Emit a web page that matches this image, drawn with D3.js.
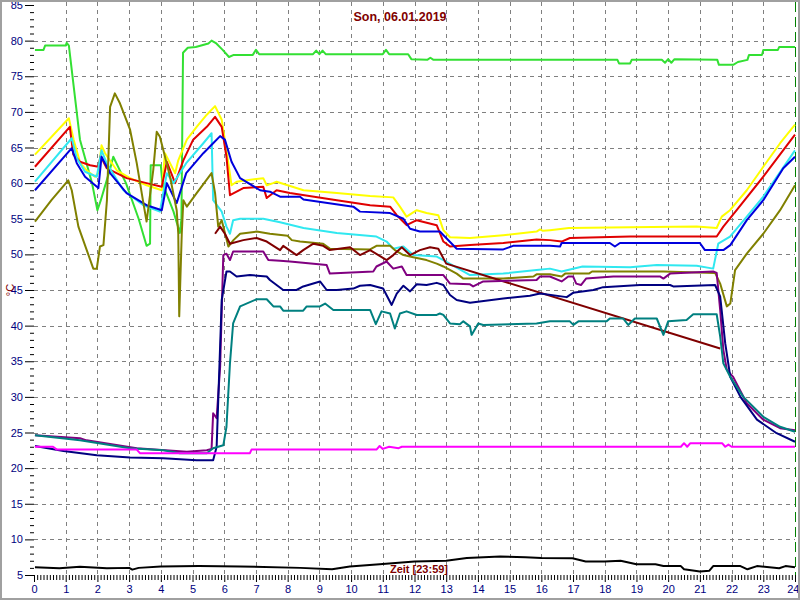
<!DOCTYPE html>
<html><head><meta charset="utf-8">
<script src="https://cdn.jsdelivr.net/npm/d3@7"></script>
<style>html,body{margin:0;padding:0;background:#fff}svg{display:block}text{font-family:Arial,"Liberation Sans",sans-serif}</style>
</head><body>
<svg id="c" width="800" height="600"></svg>
<script>
const title = "Son, 06.01.2019";
const xLabel = "Zeit [23:59]";
const yLabel = "°C";
const xTicks = d3.range(0, 25);
const yTicks = d3.range(5, 90, 5);

const green = [[0.03,78.7],[0.3,78.7],[0.35,79.3],[1.0,79.3],[1.03,79.7],[1.1,79.3],[1.45,66.1],[1.83,60],[2.0,56.2],[2.1,57.5],[2.4,62],[2.5,63.7],[2.9,60],[3.3,55],[3.55,51.2],[3.66,51.5],[3.68,62.5],[4.0,62.5],[4.05,60],[4.4,56],[4.6,53],[4.65,55],[4.7,78.3],[4.85,79],[5.1,79.1],[5.5,79.6],[5.6,80.0],[5.75,79.6],[5.95,78.7],[6.15,77.7],[6.3,78.0],[6.9,78.0],[7.0,78.7],[7.1,78.1],[8.8,78.1],[8.9,78.6],[9.0,78.1],[9.1,78.6],[9.2,78.1],[11.0,78.1],[11.1,78.7],[11.2,78.1],[11.8,78.1],[11.9,77.4],[12.4,77.3],[12.5,77.6],[12.6,77.3],[18.4,77.3],[18.45,76.8],[18.8,76.8],[18.85,77.3],[19.8,77.3],[19.9,76.9],[20.0,77.4],[20.1,76.9],[20.2,77.4],[21.55,77.3],[21.6,76.6],[22.05,76.6],[22.2,77.0],[22.5,77.3],[22.55,78.0],[22.96,78.0],[23.0,78.7],[23.46,78.7],[23.5,79.1],[24,79.1]];
const yellow = [[0.03,64.0],[1.1,69.1],[1.25,66.1],[1.46,62.8],[1.66,61.8],[1.92,60.9],[2.03,61.4],[2.13,65.3],[2.24,64.2],[2.61,61.8],[3.03,60.7],[3.55,59.7],[4.03,59.0],[4.13,64.2],[4.45,61.4],[4.55,63.2],[4.82,66.1],[5.13,67.9],[5.45,69.6],[5.71,70.8],[5.92,68.9],[6.07,64.6],[6.23,59.7],[6.39,60.2],[6.71,60.4],[7.23,60.7],[7.34,59.7],[7.54,60.0],[7.65,60.2],[8.5,59.0],[9.55,58.6],[10.6,58.2],[11.33,58.0],[11.54,56.7],[11.75,55.3],[12.07,56.2],[12.38,55.8],[12.75,55.5],[12.91,53.4],[13.12,52.4],[13.75,52.3],[14.8,52.7],[15.85,53.2],[15.96,53.5],[16.05,53.3],[16.27,53.4],[16.87,53.7],[18.8,53.8],[20.9,53.9],[21.53,53.7],[21.69,55.3],[21.95,56.2],[22.48,59.0],[23.0,62.3],[23.53,65.6],[24.0,68.2]];
const red = [[0.03,62.3],[1.13,67.9],[1.24,64.0],[1.45,63.0],[1.77,62.5],[2.03,62.3],[2.1,63.8],[2.29,62.1],[2.92,60.7],[3.55,60.0],[4.03,59.5],[4.19,63.0],[4.45,60.0],[4.71,63.2],[5.02,66.1],[5.45,67.9],[5.71,69.3],[5.92,67.9],[6.07,63.7],[6.18,58.3],[6.6,59.3],[7.23,59.5],[7.34,57.9],[7.65,59.0],[8.07,58.6],[9.55,57.6],[10.6,56.9],[11.23,56.7],[11.44,55.5],[11.75,54.1],[12.07,54.8],[12.7,54.1],[12.91,51.8],[13.12,51.1],[13.75,51.3],[14.8,51.6],[15.85,52.1],[16.27,52.0],[16.64,51.8],[16.9,52.3],[18.8,52.5],[21.53,52.5],[21.74,53.9],[22.16,56.2],[23.0,60.9],[24.0,66.8]];
const cyan = [[0.03,60.2],[1.19,66.3],[1.35,63.5],[1.61,61.6],[1.98,60.9],[2.13,64.6],[2.29,62.8],[2.82,59.0],[3.45,56.9],[3.97,56.0],[4.19,61.4],[4.4,60.0],[4.8,62.8],[5.34,65.6],[5.6,67.0],[5.65,57.6],[5.92,56.0],[6.07,53.9],[6.18,52.9],[6.28,54.8],[6.5,55.0],[7.23,55.0],[7.76,54.5],[8.5,53.7],[9.55,53.0],[10.8,52.5],[11.12,51.8],[11.33,50.8],[11.65,51.1],[11.96,49.9],[12.7,49.7],[12.91,49.2],[13.75,47.1],[14.8,47.3],[15.85,47.8],[16.27,48.0],[16.64,47.6],[17.3,48.3],[18.8,48.2],[19.64,48.5],[20.9,48.4],[21.42,48.0],[21.58,51.5],[21.95,52.5],[22.48,55.3],[23.0,58.1],[24.0,64.6]];
const blue = [[0.03,59.0],[1.19,64.9],[1.35,62.8],[1.61,60.9],[2.03,59.3],[2.13,63.7],[2.4,61.4],[2.92,58.6],[3.55,56.9],[4.03,56.2],[4.19,60.0],[4.5,57.2],[4.8,61.4],[5.34,64.2],[5.65,65.6],[5.87,66.6],[6.02,66.1],[6.23,63.0],[6.5,60.7],[7.13,59.0],[7.44,58.8],[7.76,58.1],[8.39,58.1],[8.5,57.7],[10.07,56.7],[10.28,56.0],[11.23,55.8],[11.65,55.0],[11.86,53.6],[12.17,53.2],[12.8,53.2],[13.33,50.8],[14.8,50.7],[15.11,51.2],[16.27,51.2],[16.59,51.1],[16.64,51.6],[18.16,51.6],[18.32,51.1],[18.48,51.6],[21.0,51.6],[21.16,50.6],[21.74,50.6],[21.96,51.3],[22.48,54.8],[23.0,57.6],[23.63,62.1],[24.0,63.7]];
const olive = [[0.03,54.6],[0.55,57.6],[1.08,60.4],[1.19,59.0],[1.4,53.9],[1.87,48.0],[1.98,48.0],[2.08,51.1],[2.19,51.3],[2.3,57.6],[2.4,70.7],[2.55,72.6],[2.71,71.2],[3.03,67.5],[3.24,62.8],[3.45,57.2],[3.55,54.6],[3.76,61.8],[3.87,67.2],[3.97,66.5],[4.08,64.6],[4.29,60.9],[4.5,56.2],[4.55,52.9],[4.58,41.3],[4.66,52.9],[4.71,57.6],[4.82,56.7],[5.13,58.6],[5.6,61.4],[5.71,58.6],[5.81,53.9],[5.92,54.8],[6.13,51.1],[6.29,52.0],[6.5,52.9],[7.02,53.2],[7.44,52.9],[8.0,52.6],[8.13,52.0],[8.39,51.8],[9.12,51.5],[9.33,50.8],[10.6,50.7],[10.8,51.2],[11.23,51.2],[11.38,50.6],[11.65,49.9],[11.96,49.6],[12.38,49.2],[12.7,48.7],[12.91,48.3],[13.33,47.3],[13.54,46.6],[14.8,46.6],[15.75,46.9],[15.85,47.2],[16.27,47.2],[16.64,46.9],[16.75,47.3],[17.5,47.3],[17.6,47.6],[19.85,47.6],[21.48,47.4],[21.64,45.9],[21.85,42.7],[21.96,43.1],[22.11,47.8],[22.48,50.1],[23.0,52.9],[23.53,56.2],[24.0,59.7]];
const maroon = [[5.71,52.9],[5.87,53.9],[6.02,52.9],[6.18,51.5],[6.6,52.0],[7.02,52.3],[7.34,51.8],[7.76,50.6],[7.86,51.2],[8.28,49.9],[8.49,50.6],[8.81,51.5],[9.12,51.2],[9.33,50.6],[9.97,51.0],[10.28,49.9],[10.6,50.6],[11.12,49.2],[11.33,49.9],[11.6,51.0],[11.86,49.9],[12.17,50.6],[12.49,51.0],[12.75,50.8],[13.0,48.7],[21.64,36.8]];
const purple = [[0.03,24.6],[1.45,24.2],[1.66,23.9],[3.24,22.8],[4.82,22.3],[5.45,22.5],[5.6,22.7],[5.65,27.7],[5.76,27.0],[5.87,34.2],[5.97,49.9],[6.07,50.1],[6.18,49.2],[6.28,50.4],[7.23,50.4],[7.39,49.2],[7.76,49.1],[8.07,49.0],[9.23,48.5],[9.33,47.3],[10.7,47.6],[10.8,48.3],[11.12,49.0],[11.33,48.0],[11.6,48.3],[11.75,47.1],[12.91,47.1],[13.12,45.9],[13.75,45.8],[13.85,45.5],[14.17,46.2],[15.85,46.4],[15.96,46.9],[16.27,46.9],[16.64,46.2],[16.85,46.9],[17.0,46.9],[17.1,45.9],[17.25,45.7],[17.41,46.6],[18.27,46.9],[19.74,46.9],[19.85,46.6],[20.06,47.3],[21.42,47.6],[21.53,47.4],[21.64,42.2],[21.74,36.6],[21.85,33.8],[22.05,32.8],[22.48,29.1],[23.0,26.8],[23.53,25.6],[24.0,25.3]];
const navy = [[0.03,23.1],[0.93,22.4],[1.98,21.8],[3.03,21.5],[4.08,21.4],[5.13,21.1],[5.65,21.1],[5.76,23.0],[5.92,43.6],[6.07,47.6],[6.18,47.6],[6.39,46.9],[6.81,47.1],[7.34,46.9],[7.44,46.4],[7.86,45.0],[8.28,45.0],[8.49,45.5],[9.02,46.2],[9.23,45.0],[9.55,45.0],[10.07,45.2],[10.28,45.6],[10.6,45.7],[11.01,45.2],[11.28,42.9],[11.44,44.5],[11.65,45.6],[11.86,44.8],[12.07,45.8],[12.38,45.7],[12.7,46.0],[12.91,45.7],[13.12,44.3],[13.33,43.6],[13.75,43.2],[14.8,43.8],[15.64,44.2],[15.96,44.5],[16.8,44.0],[17.0,44.6],[17.64,45.0],[17.95,45.4],[19.11,45.7],[20.06,45.7],[20.16,45.5],[21.48,45.7],[21.64,44.1],[21.8,37.5],[21.96,32.8],[22.28,30.0],[22.8,26.8],[23.42,24.9],[24.0,23.7]];
const teal = [[0.03,24.6],[1.45,23.9],[3.03,22.8],[4.08,22.5],[4.6,22.1],[5.45,22.1],[5.65,22.8],[5.97,23.2],[6.07,25.8],[6.18,34.7],[6.28,40.3],[6.5,42.7],[7.02,43.7],[7.34,43.7],[7.55,42.7],[7.76,42.7],[7.86,42.1],[8.49,42.1],[8.6,42.7],[9.02,42.7],[9.18,43.1],[9.44,42.2],[10.6,42.2],[10.78,40.2],[10.96,42.0],[11.23,41.7],[11.38,39.6],[11.54,41.7],[11.75,42.0],[12.07,41.5],[12.7,41.5],[12.8,41.7],[12.91,41.5],[13.12,40.3],[13.43,40.2],[13.54,40.6],[13.75,39.9],[13.8,38.7],[14.01,40.3],[14.17,40.1],[15.85,40.3],[16.27,40.6],[16.9,40.6],[17.01,40.1],[17.17,40.6],[18.06,40.6],[18.16,41.0],[18.58,41.0],[18.74,40.1],[18.95,41.0],[19.64,41.0],[19.85,38.7],[20.0,40.6],[20.58,40.8],[20.79,41.6],[21.53,41.6],[21.64,38.5],[21.74,34.7],[21.96,32.8],[22.37,30.0],[23.0,27.2],[23.53,25.8],[24.0,25.1]];
const magenta = [[0.03,23.0],[0.6,23.0],[0.72,22.6],[3.24,22.6],[3.34,22.1],[6.81,22.1],[6.86,22.6],[10.8,22.6],[10.9,23.1],[11.0,22.7],[11.2,23.0],[11.5,22.8],[11.6,23.0],[20.4,23.0],[20.5,23.5],[20.6,23.0],[20.7,23.5],[21.7,23.5],[21.8,23.0],[21.9,23.3],[22.0,23.0],[24.0,23.0]];
const black = [[0.03,6.08],[0.8,5.94],[1.45,6.17],[2.3,5.95],[3.0,6.0],[3.1,5.75],[3.3,6.0],[4.0,6.2],[5.2,6.26],[6.5,6.2],[8.4,6.0],[9.4,5.8],[9.96,6.2],[10.9,6.5],[12.0,6.9],[13.0,7.0],[13.65,7.4],[14.7,7.6],[15.5,7.5],[16.0,7.4],[16.98,7.35],[17.4,6.9],[18.0,6.9],[18.5,7.0],[19.0,6.5],[19.6,6.5],[19.85,6.25],[20.4,6.25],[20.5,5.8],[21.0,5.5],[21.3,5.6],[21.42,6.25],[22.28,6.25],[22.5,5.8],[22.8,6.25],[23.5,5.95],[23.7,6.25],[24.0,6.08]];

const seriesList = [
  {data: green, color: "#33e033"},
  {data: yellow, color: "#ffff00"},
  {data: red, color: "#e00000"},
  {data: cyan, color: "#30e8f0"},
  {data: blue, color: "#0000dd"},
  {data: olive, color: "#808000"},
  {data: maroon, color: "#800000"},
  {data: purple, color: "#800080"},
  {data: navy, color: "#000080"},
  {data: teal, color: "#008080"},
  {data: magenta, color: "#ff00ff"},
  {data: black, color: "#000000"}
];

const svg = d3.select("#c");
const x = d3.scaleLinear().domain([0, 24]).range([34, 795]);
const y = d3.scaleLinear().domain([5, 85]).range([575, 5]);

svg.append("rect").attr("x", 0).attr("y", 0).attr("width", 800).attr("height", 600).attr("fill", "#fff");

// grid
const grid = svg.append("g").attr("stroke", "#808080").attr("stroke-width", 1).attr("stroke-dasharray", "4,4");
xTicks.filter(d => d > 0 && d < 24).forEach(d => {
  grid.append("line").attr("x1", Math.round(x(d)) + 0.5).attr("x2", Math.round(x(d)) + 0.5).attr("y1", 2).attr("y2", 575);
});
yTicks.filter(d => d > 5 && d < 85).forEach(d => {
  grid.append("line").attr("y1", Math.round(y(d)) + 0.5).attr("y2", Math.round(y(d)) + 0.5).attr("x1", 34).attr("x2", 795);
});
// current-time marker
svg.append("line").attr("x1", Math.round(x(24)) + 0.5).attr("x2", Math.round(x(24)) + 0.5).attr("y1", 2).attr("y2", 575)
  .attr("stroke", "#008000").attr("stroke-width", 1).attr("stroke-dasharray", "10,5");

// y axis (ticks only)
const yAxis = d3.axisLeft(y).tickValues(yTicks).tickSize(9).tickPadding(2);
const gy = svg.append("g").attr("transform", "translate(34,0)").call(yAxis);
gy.select(".domain").remove();
gy.selectAll("text").attr("fill", "#000080").style("font-size", "11px");
gy.selectAll("line").attr("stroke", "#000");
const yMinor = d3.axisLeft(y).tickValues(d3.range(5, 86, 1).filter(v => v % 5 !== 0)).tickSize(4).tickFormat("");
const gym = svg.append("g").attr("transform", "translate(34,0)").call(yMinor);
gym.select(".domain").remove();
gym.selectAll("line").attr("stroke", "#000");

// x axis
const xAxis = d3.axisBottom(x).tickValues(xTicks).tickSize(7).tickPadding(3);
const gx = svg.append("g").attr("transform", "translate(0,575)").call(xAxis);
gx.select(".domain").remove();
gx.selectAll("text").attr("fill", "#000080").style("font-size", "11px");
gx.selectAll("line").attr("stroke", "#000");
gx.selectAll(".tick").filter(d => d === 24).select("text").attr("text-anchor", "end").attr("x", 4);
const xMinor = d3.axisBottom(x).tickValues(d3.range(0, 240).map(i => i / 10).filter((v, i) => i % 10 !== 0)).tickSize(5).tickFormat("");
const gxm = svg.append("g").attr("transform", "translate(0,575)").call(xMinor);
gxm.select(".domain").remove();
gxm.selectAll("line").attr("stroke", "#000");

// series
const line = d3.line().x(d => x(d[0])).y(d => y(d[1]));
seriesList.forEach(s => {
  svg.append("path").attr("d", line(s.data)).attr("fill", "none")
    .attr("stroke", s.color).attr("stroke-width", 2).attr("stroke-linejoin", "round");
});

// texts
svg.append("text").attr("x", 400).attr("y", 21).attr("text-anchor", "middle")
  .attr("fill", "#800000").style("font-size", "12.5px").style("font-weight", "bold").text(title);
svg.append("text").attr("x", 419).attr("y", 573).attr("text-anchor", "middle")
  .attr("fill", "#800000").style("font-size", "11px").style("font-weight", "bold").text(xLabel);
svg.append("text").attr("transform", "translate(14,290) rotate(-90)").attr("text-anchor", "middle")
  .attr("fill", "#800000").style("font-size", "11px").text(yLabel);

// frame
svg.append("rect").attr("x", 1).attr("y", 1).attr("width", 798).attr("height", 598)
  .attr("fill", "none").attr("stroke", "#a0a0a0").attr("stroke-width", 2);
</script>
</body></html>
